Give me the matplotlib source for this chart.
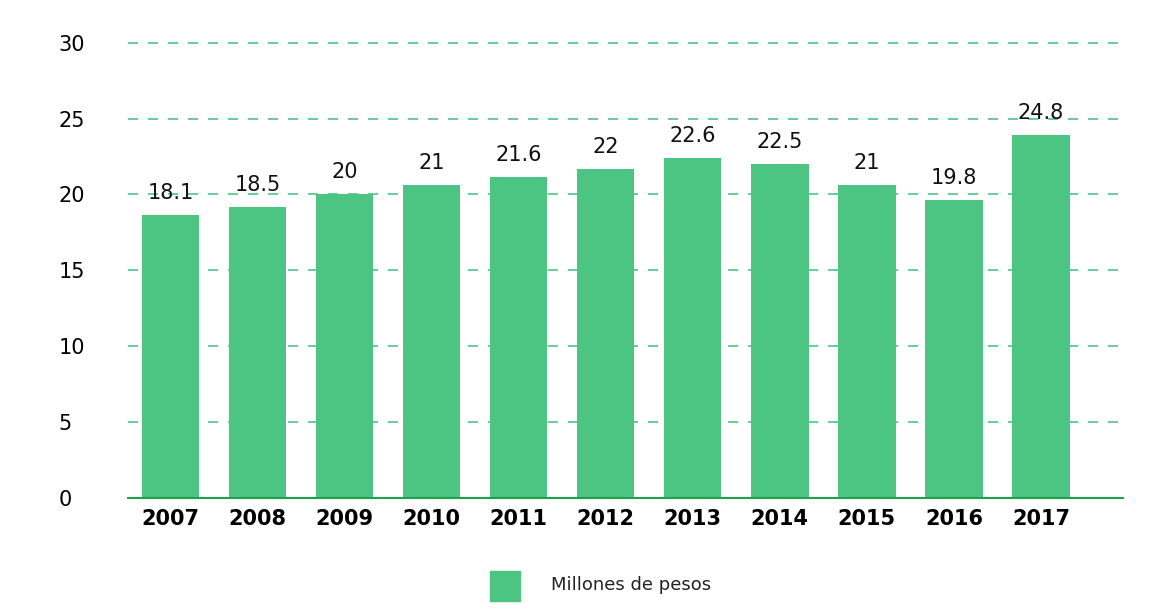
import matplotlib
matplotlib.use("Agg")
from matplotlib import pyplot as plt
from matplotlib.patches import Rectangle

years = ["2007", "2008", "2009", "2010", "2011", "2012", "2013", "2014", "2015", "2016", "2017"]
heights = [18.66, 19.18, 20.04, 20.63, 21.16, 21.69, 22.41, 22.02, 20.63, 19.64, 23.93]
labels = ["18.1", "18.5", "20", "21", "21.6", "22", "22.6", "22.5", "21", "19.8", "24.8"]

green = "#4cc583"
fig = plt.figure(figsize=(11.72, 6.10), dpi=100)
ax = fig.add_axes([0.109, 0.184, 0.849, 0.746])
x = range(len(years))
ax.bar(x, heights, width=0.66, color=green, zorder=2)
for i, (h, t) in enumerate(zip(heights, labels)):
    ax.text(i, h + 0.75, t, ha="center", va="bottom", fontsize=15, color="#111111")

ax.set_ylim(0, 30)
ax.set_xlim(-0.49, len(years) - 1 + 0.94)
ax.set_yticks(range(0, 31, 5))
ax.set_xticks(list(x))
ax.set_xticklabels(years, fontsize=15, fontweight="bold")
ax.tick_params(axis="y", labelsize=15, length=0, pad=50)
ax.tick_params(axis="x", length=0, pad=8)
for lab in ax.get_yticklabels():
    lab.set_horizontalalignment("left")
ax.yaxis.grid(True, linestyle=(0, (6, 6)), color=green, linewidth=1.2, zorder=0)
for gl in ax.get_ygridlines():
    gl.set_clip_on(False)
for s in ["top", "right", "left"]:
    ax.spines[s].set_visible(False)
ax.spines["bottom"].set_color("#1aa34a")
ax.spines["bottom"].set_linewidth(1.5)

fig.patches.append(Rectangle((490 / 1172, 1 - 601 / 610), 30 / 1172, 30 / 610,
                             transform=fig.transFigure, color=green))
fig.text(551 / 1172, 1 - 585 / 610, "Millones de pesos", fontsize=13, va="center", color="#222222")

fig.savefig("out.png", dpi=100)
